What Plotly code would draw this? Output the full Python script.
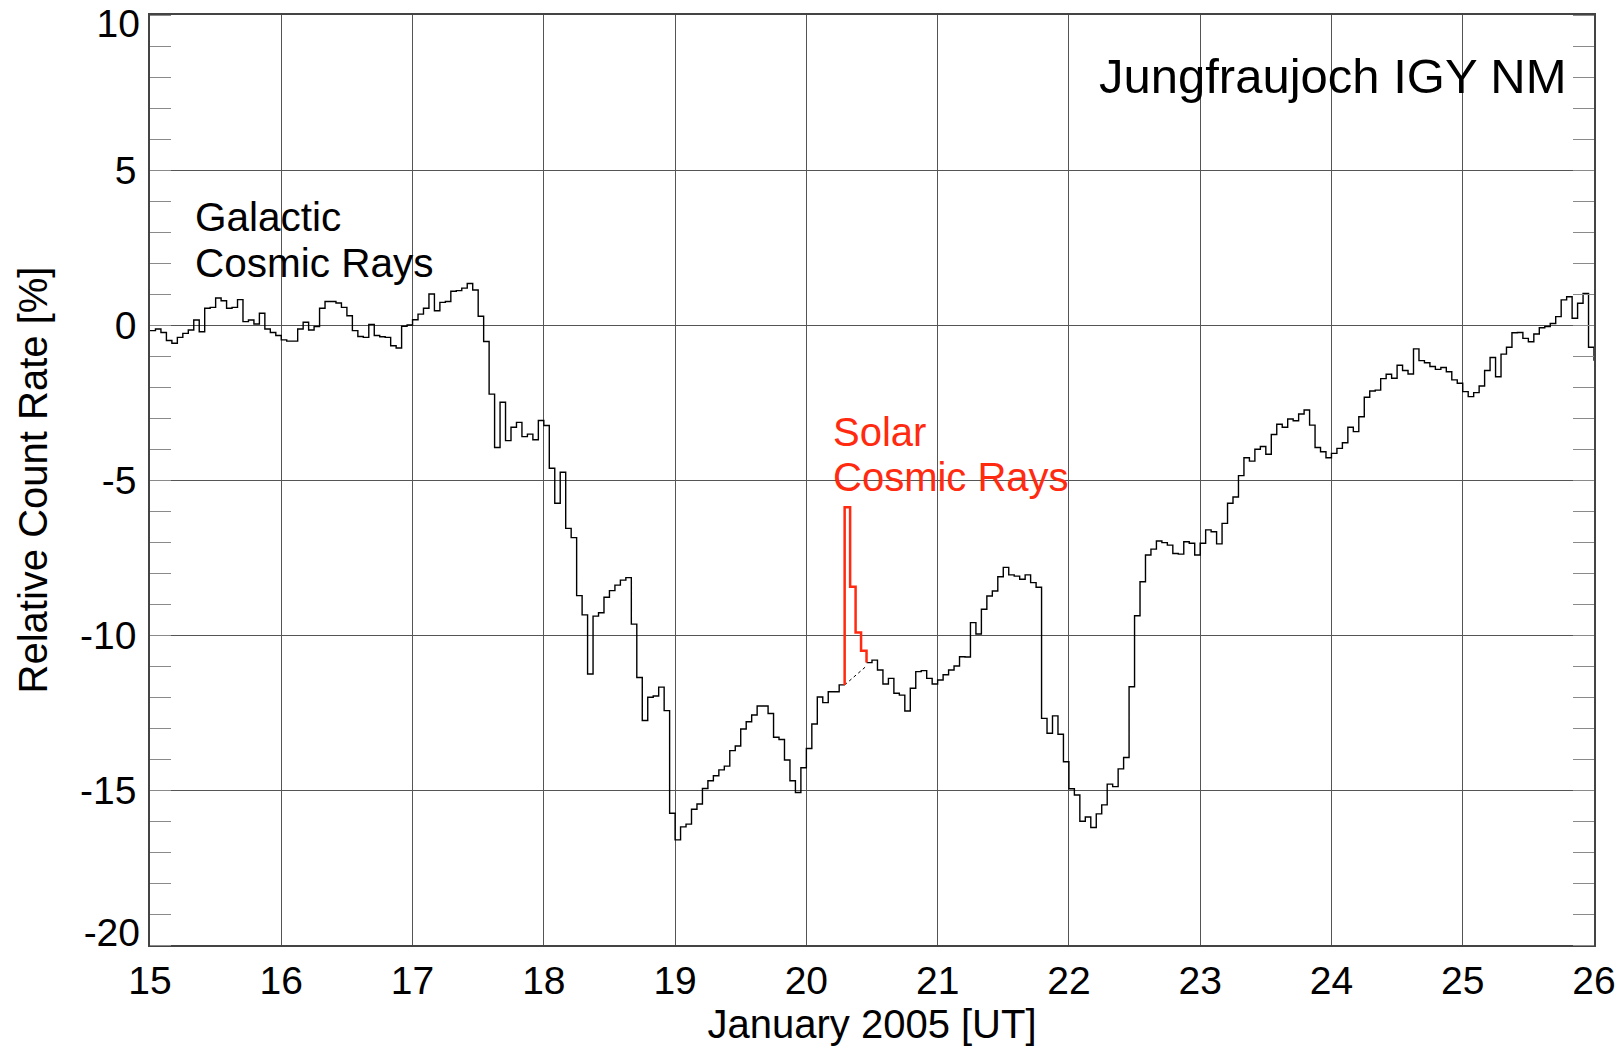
import plotly.graph_objects as go

# ---------------- data (hourly relative count rates, %) ----------------
START_DAY = 15  # January 15, 2005 00:00 UT

# Galactic cosmic ray background, hours 0..126
gcr_before = [
    -0.18, -0.13, -0.24, -0.50, -0.59, -0.40, -0.27, -0.16, 0.16, -0.22,
    0.54, 0.57, 0.87, 0.78, 0.54, 0.57, 0.82, 0.11, 0.16, 0.03,
    0.38, -0.13, -0.24, -0.34, -0.48, -0.52, -0.52, -0.13, 0.09, -0.16,
    -0.05, 0.54, 0.76, 0.76, 0.71, 0.57, 0.30, -0.18, -0.37, -0.40,
    0.02, -0.34, -0.38, -0.40, -0.67, -0.74, -0.04, 0.00, 0.17, 0.35,
    0.54, 1.00, 0.46, 0.73, 0.76, 1.09, 1.11, 1.19, 1.34, 1.13,
    0.28, -0.53, -2.23, -3.95, -2.49, -3.73, -3.30, -3.14, -3.60, -3.52,
    -3.70, -3.08, -3.24, -4.62, -5.75, -4.75, -6.56, -6.86, -8.73, -9.35,
    -11.26, -9.39, -9.28, -8.78, -8.57, -8.39, -8.23, -8.15, -9.65, -11.37,
    -12.76, -12.01, -11.97, -11.68, -12.44, -15.75, -16.61, -16.19, -16.10, -15.62,
    -15.45, -14.95, -14.70, -14.54, -14.35, -14.23, -13.73, -13.58, -13.03, -12.80,
    -12.58, -12.29, -12.29, -12.53, -13.30, -13.37, -14.03, -14.70, -15.08, -14.28,
    -13.66, -12.87, -12.00, -12.18, -11.83, -11.83, -11.61,
]

# Solar cosmic ray increase (GLE), hours 127..130
scr_values = [-5.88, -8.44, -9.92, -10.51]
scr_first_hour = 127

# Interpolated background under the solar event (start, end)
baseline_values = [-11.61, -11.00]

# Galactic cosmic ray background, hours 131..264
gcr_after = [
    -10.89, -10.81, -11.13, -11.58, -11.40, -11.88, -11.94, -12.45, -11.72,
    -11.18, -11.15, -11.40, -11.58, -11.45, -11.28, -11.13, -11.00, -10.70, -10.71,
    -9.60, -9.97, -9.17, -8.74, -8.58, -8.12, -7.82, -8.06, -8.10, -8.20,
    -8.06, -8.31, -8.46, -12.69, -13.17, -12.61, -13.20, -14.09, -14.96, -15.16,
    -16.01, -15.87, -16.21, -15.77, -15.48, -14.81, -14.89, -14.32, -13.95, -11.67,
    -9.38, -8.28, -7.42, -7.23, -6.97, -7.02, -7.10, -7.37, -7.39, -6.99,
    -7.04, -7.42, -7.04, -6.61, -6.67, -7.06, -6.40, -5.75, -5.55, -4.86,
    -4.28, -4.39, -4.01, -3.92, -4.17, -3.53, -3.20, -3.30, -3.03, -3.09,
    -2.87, -2.74, -3.23, -3.95, -4.09, -4.28, -4.14, -3.98, -3.80, -3.30,
    -3.44, -2.96, -2.33, -2.13, -2.10, -1.73, -1.59, -1.72, -1.30, -1.47,
    -1.58, -0.77, -1.15, -1.22, -1.34, -1.43, -1.37, -1.51, -1.77, -1.88,
    -2.15, -2.31, -2.18, -1.97, -1.47, -1.05, -1.67, -0.94, -0.72, -0.25,
    -0.24, -0.43, -0.54, -0.29, -0.09, -0.05, 0.05, 0.27, 0.81, 0.91,
    0.22, 0.70, 1.02, -0.72, -1.15,
]
gcr_after_first_hour = 131

x_tickvals = list(range(15, 27))
x_ticktext = [str(d) for d in x_tickvals]
y_tickvals = [-20, -15, -10, -5, 0, 5, 10]
y_ticktext = ["-20", "-15", "-10", "-5", "0", "5", "10"]

# ---------------- build ----------------
def day(h):
    return START_DAY + h / 24.0

scr_end_hour = scr_first_hour + len(scr_values)

bx = [day(h) for h in range(len(gcr_before))] + [day(scr_first_hour)]
by = gcr_before + [gcr_before[-1]]
ax_ = [day(gcr_after_first_hour + i) for i in range(len(gcr_after))]
ay_ = gcr_after

rx = [day(scr_first_hour)] + [day(scr_first_hour + i) for i in range(len(scr_values))] + [day(scr_end_hour)]
ry = [gcr_before[-1]] + scr_values + [gcr_after[0]]

RED = "#ff2a10"
FONT = "Liberation Sans, Arial, Helvetica, sans-serif"
GRID = "#555555"
YRANGE = [y_tickvals[0], y_tickvals[-1]]

fig = go.Figure()
fig.add_trace(go.Scatter(x=bx, y=by, mode="lines", line=dict(color="black", width=1.4, shape="hv"),
                         showlegend=False, hoverinfo="skip"))
fig.add_trace(go.Scatter(x=ax_, y=ay_, mode="lines", line=dict(color="black", width=1.4, shape="hv"),
                         showlegend=False, hoverinfo="skip"))
fig.add_trace(go.Scatter(x=[day(scr_first_hour), day(scr_end_hour)], y=baseline_values, mode="lines",
                         line=dict(color="black", width=1, dash="dot"), showlegend=False, hoverinfo="skip"))
fig.add_trace(go.Scatter(x=rx, y=ry, mode="lines", line=dict(color=RED, width=2.5, shape="hv"),
                         showlegend=False, hoverinfo="skip"))
# empty helper traces so the label-only overlay axes (end labels) are drawn
fig.add_trace(go.Scatter(x=[None], y=[None], yaxis="y2", showlegend=False, hoverinfo="skip"))
fig.add_trace(go.Scatter(x=[None], y=[None], yaxis="y3", showlegend=False, hoverinfo="skip"))

tickfont = dict(size=39, family=FONT, color="black")
main_text = [""] + y_ticktext[1:-1] + [""]

end_axis = dict(overlaying="y", side="left", anchor="x", range=YRANGE, tickmode="array",
                showgrid=False, zeroline=False, showline=False, ticks="", automargin=False,
                ticklabeloverflow="allow", ticklabelstandoff=9, tickfont=tickfont)

fig.update_layout(
    width=1623, height=1048,
    margin=dict(l=150, r=29, t=15, b=103, autoexpand=False),
    paper_bgcolor="white", plot_bgcolor="white",
    font=dict(family=FONT, color="black", size=39),
    xaxis=dict(
        range=[15, 26], tickmode="array", tickvals=x_tickvals, ticktext=x_ticktext,
        showgrid=True, gridcolor=GRID, gridwidth=1, zeroline=False, automargin=False,
        showline=True, linecolor="#444444", linewidth=1.5, mirror=True,
        ticks="", ticklabeloverflow="allow", tickfont=tickfont,
        title=dict(text="January 2005 [UT]", font=dict(size=40, family=FONT, color="black"), standoff=2),
    ),
    yaxis=dict(
        range=YRANGE, tickmode="array", tickvals=y_tickvals, ticktext=main_text,
        showgrid=True, gridcolor=GRID, gridwidth=1, zeroline=False, automargin=False,
        showline=True, linecolor="#444444", linewidth=1.5, mirror="allticks",
        ticks="", ticklabeloverflow="allow", ticklabelstandoff=4, tickfont=tickfont,
        minor=dict(dtick=1, tick0=0, ticks="inside", ticklen=21, tickcolor="#8a8a8a", tickwidth=1, showgrid=False),
        title=dict(text="Relative Count Rate [%]", font=dict(size=40, family=FONT, color="black"), standoff=20),
    ),
    yaxis2=dict(end_axis, tickvals=[y_tickvals[-1]], ticktext=[y_ticktext[-1]], ticklabelshift=8),
    yaxis3=dict(end_axis, tickvals=[y_tickvals[0]], ticktext=[y_ticktext[0]], ticklabelshift=-13),
)

fig.add_annotation(x=25.81, y=8.03, xref="x", yref="y", text="Jungfraujoch IGY NM", showarrow=False,
                   xanchor="right", yanchor="middle", font=dict(size=49, family=FONT, color="black"))
fig.add_annotation(x=15.33, y=3.47, xref="x", yref="y", text="Galactic", showarrow=False,
                   xanchor="left", yanchor="middle", font=dict(size=40.5, family=FONT, color="black"))
fig.add_annotation(x=15.33, y=2.0, xref="x", yref="y", text="Cosmic Rays", showarrow=False,
                   xanchor="left", yanchor="middle", font=dict(size=40.5, family=FONT, color="black"))
fig.add_annotation(x=20.19, y=-3.44, xref="x", yref="y", text="Solar", showarrow=False,
                   xanchor="left", yanchor="middle", font=dict(size=40, family=FONT, color=RED))
fig.add_annotation(x=20.19, y=-4.9, xref="x", yref="y", text="Cosmic Rays", showarrow=False,
                   xanchor="left", yanchor="middle", font=dict(size=40, family=FONT, color=RED))

fig.write_html("out.html", config={"displayModeBar": False},
               post_script="document.body.style.margin='0px';document.body.style.overflow='hidden';")
